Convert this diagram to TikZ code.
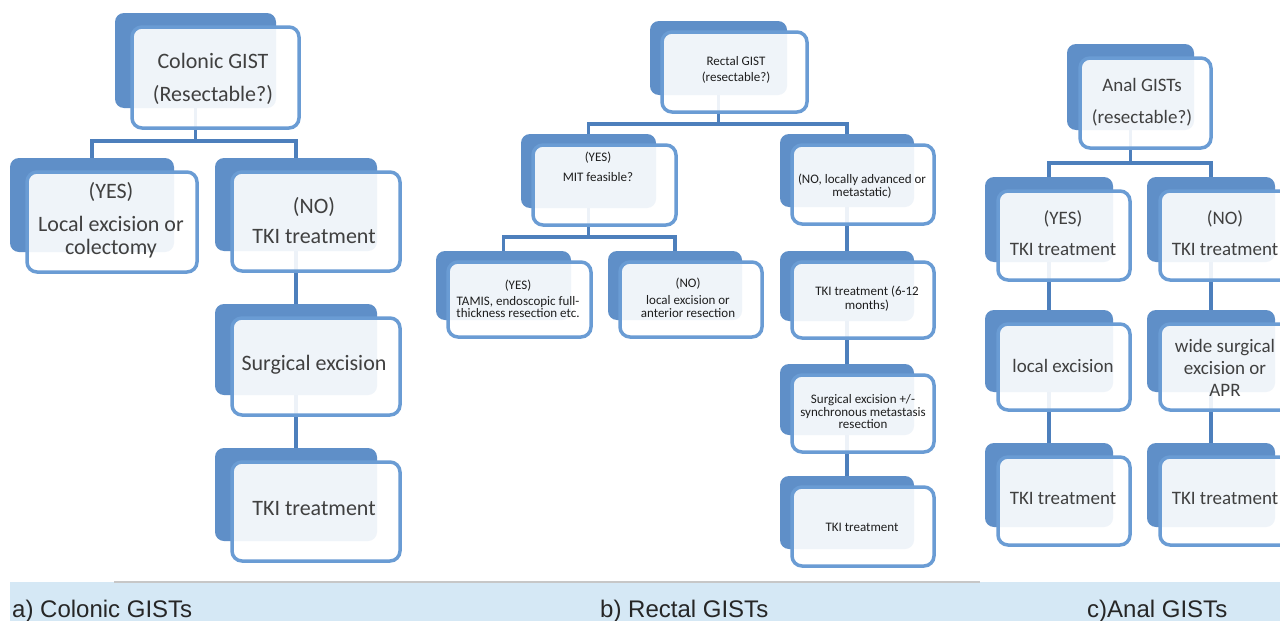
\documentclass[tikz,border=0pt]{standalone}
\usepackage{fontspec}
\setmainfont{Carlito}
\newfontfamily\arialf{Liberation Sans}
\pgfdeclarelayer{bg}
\pgfsetlayers{bg,main}
\definecolor{backc}{HTML}{5F8FC8}
\definecolor{edgec}{HTML}{6A9CD4}
\definecolor{connc}{HTML}{4D7FBC}
\definecolor{txta}{HTML}{404040}
\definecolor{txtb}{HTML}{1E1E1E}
\definecolor{bandc}{HTML}{D5E8F5}
\tikzset{
 backbox/.style={fill=backc, draw=none, rounded corners=9pt, inner sep=0pt, outer sep=0pt},
 frontbox/.style={draw=edgec, line width=3.5pt, fill=white, fill opacity=0.9, rounded corners=10pt, inner sep=0pt, outer sep=0pt},
 conn/.style={draw=connc, line width=3.5pt},
 ta/.style={font=\fontsize{22}{23}\selectfont, text=txta, align=center, inner sep=0pt},
 tb/.style={font=\fontsize{13}{12.5}\selectfont, text=txtb, align=center, inner sep=0pt},
 tc/.style={font=\fontsize{19}{22}\selectfont, text=txta, align=center, inner sep=0pt},
 caption/.style={font=\arialf\fontsize{24}{26}\selectfont, text=black!85, anchor=base west, inner sep=0pt},
}
% #1 name, #2 x1, #3 y1, #4 x2, #5 y2 (front box), #6 text style, #7 text, #8 #9 text centre
\newcommand\gistcard[9]{%
 \node[backbox, minimum width={(#4)-(#2)-\offR+\offL}, minimum height={(#5)-(#3)-\offB+\offT}] (#1b) at ({((#2)+(#4)-\offL-\offR)/2},{((#3)+(#5)-\offT-\offB)/2}) {};
 \node[frontbox, minimum width={(#4)-(#2)}, minimum height={(#5)-(#3)}] (#1) at ({((#2)+(#4))/2},{((#3)+(#5))/2}) {};
 \node[#6] (#1t) at (#8,#9) {#7};
}
\begin{document}
\begin{tikzpicture}[x=1pt,y=-1pt]
\useasboundingbox (0,0) rectangle (1280,621);
\clip (0,0) rectangle (1280,621);
% bottom band
\fill[bandc] (10,582) rectangle (1280,621);
\draw[black!22, line width=1.2pt] (114,582) -- (980,582);
\node[caption] (capa) at (12,617) {a) Colonic GISTs};
\node[caption] (capb) at (600,617) {b) Rectal GISTs};
\node[caption] (capc) at (1087,617) {c)Anal GISTs};

% ---------- panel a
\def\offL{17}\def\offT{14}\def\offR{23}\def\offB{20}
\gistcard{a0}{132}{27}{299}{128}{ta}{Colonic GIST\\[10pt](Resectable?)}{213}{78.5}
\gistcard{a1}{27}{172}{197}{272}{ta}{(YES)\\[10pt]Local excision or\\colectomy}{111}{220}
\gistcard{a2}{232}{172}{400}{271}{ta}{(NO)\\[7pt]TKI treatment}{314}{221}
\gistcard{a3}{232}{318}{400}{415}{ta}{Surgical excision}{314}{365}
\gistcard{a4}{232}{462}{400}{561}{ta}{TKI treatment}{314}{509}

% ---------- panel b
\def\offL{12}\def\offT{11}\def\offR{20}\def\offB{17}
\gistcard{b0}{662}{32}{807}{112}{tb}{Rectal GIST\\[3.5pt](resectable?)}{736}{70}
\gistcard{b1}{533}{145}{676}{225}{tb}{(YES)\\[7.5pt]MIT feasible?}{598}{167}
\gistcard{b2}{792}{145}{934}{224}{tb}{(NO, locally advanced or\\metastatic)}{862}{186}
\gistcard{b3}{448}{262}{591}{337}{tb}{(YES)\\[3.5pt]TAMIS, endoscopic full-\\thickness resection etc.}{518}{299}
\gistcard{b4}{620}{262}{762}{337}{tb}{(NO)\\[4.5pt]local excision or\\anterior resection}{688}{298}
\gistcard{b5}{792}{262}{934}{338}{tb}{TKI treatment (6-12\\[1.5pt]months)}{867}{299}
\gistcard{b6}{792}{375}{934}{452}{tb}{Surgical excision +/-\\synchronous metastasis\\resection}{863}{412}
\gistcard{b7}{792}{487}{934}{566}{tb}{TKI treatment}{862}{527}

% ---------- panel c
\def\offL{13}\def\offT{14}\def\offR{17}\def\offB{18}
\gistcard{c0}{1080}{58}{1211}{148}{tc}{Anal GISTs\\[10pt](resectable?)}{1142}{102}
\gistcard{c1}{998}{191}{1130}{280}{tc}{(YES)\\[9pt]TKI treatment}{1063}{233.5}
\gistcard{c2}{1160}{191}{1292}{280}{tc}{(NO)\\[9pt]TKI treatment}{1225}{233.5}
\gistcard{c3}{998}{324}{1130}{410}{tc}{local excision}{1063}{366}
\gistcard{c4}{1160}{324}{1292}{410}{tc}{wide surgical\\excision or\\APR}{1225}{368}
\gistcard{c5}{998}{457}{1130}{545}{tc}{TKI treatment}{1063}{498}
\gistcard{c6}{1160}{457}{1292}{545}{tc}{TKI treatment}{1225}{498}

% ---------- connectors (behind the cards)
\begin{pgfonlayer}{bg}
\fill[white] (0,0) rectangle (1280,621);
\coordinate (ja) at (196,141);
\draw[conn] (a0b.center) -- (a0b.center |- ja);
\draw[conn] (a1b.center) |- (ja) -| (a2b.center);
\draw[conn] (a2b.center) -- (a3b.center) -- (a4b.center);

\coordinate (jb) at (718,124);
\draw[conn] (b0b.center) -- (b0b.center |- jb);
\draw[conn] (b1b.center) |- (jb) -| (b2b.center);
\coordinate (jb1) at (589,237);
\draw[conn] (b1b.center) -- (b1b.center |- jb1);
\draw[conn] (b3b.center) |- (jb1) -| (b4b.center);
\draw[conn] (b2b.center) -- (b5b.center) -- (b6b.center) -- (b7b.center);

\coordinate (jc) at (1131,163);
\draw[conn] (c0b.center) -- (c0b.center |- jc);
\draw[conn] (c1b.center) |- (jc) -| (c2b.center);
\draw[conn] (c1b.center) -- (c3b.center) -- (c5b.center);
\draw[conn] (c2b.center) -- (c4b.center) -- (c6b.center);
\end{pgfonlayer}
\end{tikzpicture}
\end{document}
